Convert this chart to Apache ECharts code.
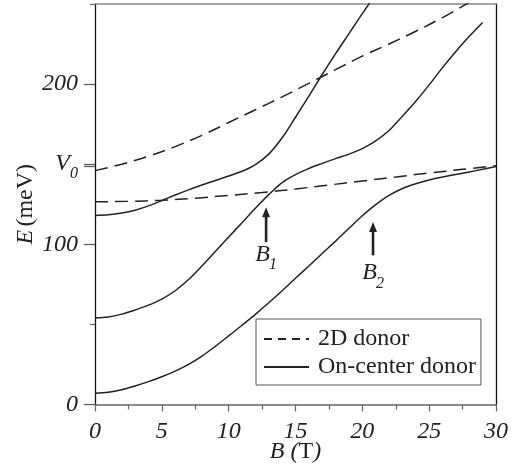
<!DOCTYPE html>
<html><head><meta charset="utf-8">
<script src="https://cdn.jsdelivr.net/npm/echarts@6/dist/echarts.min.js"></script>
<style>html,body{margin:0;padding:0;background:#fff}#c{width:520px;height:468px}</style>
</head><body><div id="c"></div>
<script>
// ---- data (B in T, E in meV) ----
const V0 = 148.5;
const xTicks = [0, 5, 10, 15, 20, 25, 30];
const yTickLabels = [0, 100, 200, V0];
const donor2DUpper = [[0,146],[2,150],[4,155],[6,161],[8,168],[10,176],[12,184],[14,192],[16,200.5],[18,209],[20,217.5],[22,225],[24,233],[26,241.5],[28,251]];
const donor2DLower = [[0,126.5],[2.5,126.8],[5,127.5],[7.5,128.8],[10,130.5],[12.5,132.3],[15,134.5],[17.5,137],[20,139.5],[22.5,142],[25,144.5],[27.5,146.8],[30,149]];
const onCenter1 = [[0,7],[1,7.6],[2,9.2],[3,11.6],[4,14.3],[5,17.3],[6,20.8],[7,25],[8,30.2],[9,36.3],[10,42.8],[11,49.5],[12,56.3],[13,63.5],[14,71],[15,78.8],[16,86.5],[17,94.3],[18,102],[19,110],[20,117.8],[21,124.8],[22,130.5],[23,134.8],[24,137.8],[25,140.2],[26,142],[27,143.6],[28,145.2],[29,146.8],[30,148.5]];
const onCenter2 = [[0,54],[1,54.6],[2,56.4],[3,59],[4,62],[5,65.8],[6,71],[7,78],[8,86.5],[9,95.5],[10,104.5],[11,113.5],[12,122.5],[13,131],[14,138.5],[15,143.5],[16,147.3],[17,150.5],[18,153.5],[19,156.3],[20,159.7],[21,164.5],[22,171],[23,180],[24,189.3],[25,199.5],[26,210.3],[27,220.3],[28,229.8],[29,238.5]];
const onCenter3 = [[0,118],[1,118.4],[2,119.5],[3,121.3],[4,124],[5,127.3],[6,130.8],[7,134],[8,137],[9,139.8],[10,142.6],[11,145.6],[12,149.8],[13,156.3],[14,166.5],[15,179.3],[16,192.5],[17,206],[18,219],[19,231.5],[20,244],[21,256]];
// annotations: arrow at field arrowB from E=arrowTail to E=arrowTip, label centre at E=arrowLabelE
const arrowB = [12.8, 20.8];
const arrowTail = [101.4, 93.1];
const arrowTip = [123.2, 113.9];
const arrowLabelE = [93.8, 82.2];
const arrowSub = ['1', '2'];

const FONT = 'Liberation Serif';
const INK = '#222';
const FS = 24;
const chart = echarts.init(document.getElementById('c'));
const dashed = {color: INK, width: 1.5, type: [13, 7]};
const solid = {color: INK, width: 1.5, type: 'solid'};
function ser(name, data, ls) {
  return {name, type: 'line', data, showSymbol: false, symbol: 'none', smooth: 0.35,
    lineStyle: ls, itemStyle: {color: INK}, clip: true, silent: true, xAxisIndex: 0, yAxisIndex: 0};
}
const ital = {fontFamily: FONT, fontStyle: 'italic', fontSize: FS, color: INK};
const nameRich = {i: ital, n: {fontFamily: FONT, fontStyle: 'normal', fontSize: FS, color: INK}};
chart.setOption({
  animation: false,
  backgroundColor: '#fff',
  grid: {left: 95, right: 24, top: 4, bottom: 63.5, containLabel: false, outerBoundsMode: 'none'},
  xAxis: [{
    type: 'value', min: 0, max: 30, interval: 5, position: 'bottom',
    axisLine: {show: true, onZero: false, lineStyle: {color: '#666', width: 1.5}},
    axisTick: {show: true, length: 7, lineStyle: {color: '#666', width: 1.2}},
    minorTick: {show: true, splitNumber: 2, length: 5, lineStyle: {color: '#666', width: 1.2}},
    splitLine: {show: false}, minorSplitLine: {show: false},
    axisLabel: {margin: 15, fontFamily: FONT, fontStyle: 'italic', fontSize: FS, color: INK,
      formatter: v => '{i|' + v + '}', rich: {i: ital}},
    name: '{i|B (}{n|T}{i|)}', nameLocation: 'middle', nameGap: 35, nameMoveOverlap: false,
    nameTextStyle: {rich: nameRich}
  }, {
    type: 'value', min: 0, max: 30, position: 'top',
    axisLine: {show: true, onZero: false, lineStyle: {color: '#888', width: 1.5}},
    axisTick: {show: false}, axisLabel: {show: false}, splitLine: {show: false}
  }],
  yAxis: [{
    type: 'value', min: 0, max: 250, position: 'left',
    axisLine: {show: true, onZero: false, lineStyle: {color: '#111', width: 1.3}},
    axisTick: {show: true, length: 11, customValues: [0, 100, 200, V0, 150], lineStyle: {color: '#555', width: 1.2}},
    axisLabel: {margin: 17, customValues: yTickLabels, fontFamily: FONT, fontStyle: 'italic', fontSize: FS, color: INK,
      formatter: v => (Math.abs(v - V0) < 1e-6 ? '{v|V}{s|0}' : '{i|' + v + '}'),
      rich: {i: ital,
             v: {fontFamily: FONT, fontStyle: 'italic', fontSize: FS, color: INK, padding: [0, 0, 6, 0]},
             s: {fontFamily: FONT, fontStyle: 'italic', fontSize: 16, color: INK, padding: [15, 0, 0, 0]}}},
    splitLine: {show: false},
    name: '{i|E} {n|(meV)}', nameLocation: 'middle', nameGap: 57, nameMoveOverlap: false,
    nameTextStyle: {rich: nameRich}
  }, {
    type: 'value', min: 0, max: 250, position: 'left',
    axisLine: {show: false, onZero: false},
    axisTick: {show: true, length: 5, customValues: [50, 250], lineStyle: {color: '#666', width: 1.2}},
    axisLabel: {show: false}, splitLine: {show: false}
  }, {
    type: 'value', min: 0, max: 250, position: 'right',
    axisLine: {show: true, onZero: false, lineStyle: {color: '#111', width: 1.3}},
    axisTick: {show: false}, axisLabel: {show: false}, splitLine: {show: false}
  }],
  legend: {
    orient: 'vertical', left: 256, top: 319, padding: [8, 5, 6, 7], itemGap: 4,
    itemWidth: 45, itemHeight: 14, borderColor: '#555', borderWidth: 1, backgroundColor: '#fff',
    selectedMode: false,
    itemStyle: {opacity: 0, borderWidth: 0, color: 'rgba(0,0,0,0)'},
    textStyle: {fontFamily: FONT, fontSize: FS, color: INK, padding: [0, 0, 0, 4]},
    data: [{name: '2D donor', lineStyle: {type: [8, 6]}}, {name: 'On-center donor'}]
  },
  series: [
    ser('2D donor', donor2DUpper, dashed),
    ser('2D donor', donor2DLower, dashed),
    ser('On-center donor', onCenter1, solid),
    ser('On-center donor', onCenter2, solid),
    ser('On-center donor', onCenter3, solid)
  ]
});

const g = [];
arrowB.forEach((b, i) => {
  const tail = chart.convertToPixel({seriesIndex: 0}, [b, arrowTail[i]]);
  const tip = chart.convertToPixel({seriesIndex: 0}, [b, arrowTip[i]]);
  const lab = chart.convertToPixel({seriesIndex: 0}, [b, arrowLabelE[i]]);
  g.push({type: 'line', shape: {x1: tail[0], y1: tail[1], x2: tip[0], y2: tip[1] + 8}, style: {stroke: INK, lineWidth: 2.6}, silent: true});
  g.push({type: 'polygon', shape: {points: [[tip[0], tip[1]], [tip[0] - 4, tip[1] + 10], [tip[0] + 4, tip[1] + 10]]}, style: {fill: INK}, silent: true});
  g.push({type: 'text', x: lab[0] - 3.5, y: lab[1], style: {text: 'B', fontFamily: FONT, fontStyle: 'italic', fontSize: FS, fill: INK, align: 'center', verticalAlign: 'middle'}, silent: true});
  g.push({type: 'text', x: lab[0] + 7, y: lab[1] + 11, style: {text: arrowSub[i], fontFamily: FONT, fontStyle: 'italic', fontSize: 16, fill: INK, align: 'center', verticalAlign: 'middle'}, silent: true});
});
chart.setOption({graphic: g});
</script></body></html>
